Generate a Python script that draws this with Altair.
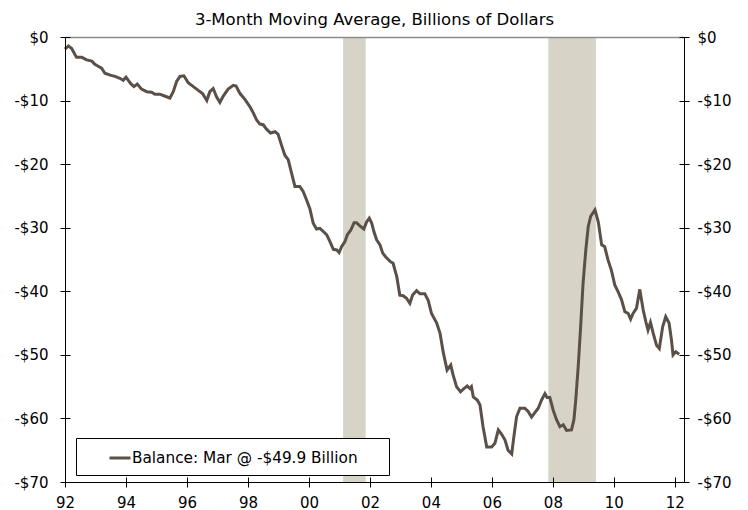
import altair as alt
import pandas as pd

title_text = "3-Month Moving Average, Billions of Dollars"
series_name = "Balance: Mar @ -$49.9 Billion"

years = [
    1992.00, 1992.11, 1992.22, 1992.33, 1992.38, 1992.55, 1992.71, 1992.88, 1992.98, 1993.09,
    1993.20, 1993.31, 1993.48, 1993.64, 1993.80, 1993.91, 1994.00, 1994.15, 1994.26, 1994.37,
    1994.51, 1994.68, 1994.84, 1994.95, 1995.11, 1995.22, 1995.33, 1995.44, 1995.55, 1995.66,
    1995.77, 1995.90, 1996.04, 1996.21, 1996.37, 1996.51, 1996.65, 1996.75, 1996.86, 1996.97,
    1997.08, 1997.19, 1997.35, 1997.52, 1997.61, 1997.74, 1997.90, 1998.07, 1998.17, 1998.29,
    1998.39, 1998.50, 1998.61, 1998.74, 1998.89, 1998.99, 1999.10, 1999.21, 1999.32, 1999.43,
    1999.54, 1999.70, 1999.81, 1999.92, 2000.03, 2000.14, 2000.25, 2000.36, 2000.47, 2000.58,
    2000.69, 2000.80, 2000.91, 2000.99, 2001.07, 2001.18, 2001.26, 2001.37, 2001.48, 2001.56,
    2001.67, 2001.80, 2001.89, 2001.98, 2002.06, 2002.13, 2002.22, 2002.33, 2002.42, 2002.52,
    2002.66, 2002.76, 2002.88, 2002.98, 2003.09, 2003.20, 2003.31, 2003.40, 2003.53, 2003.64,
    2003.80, 2003.91, 2004.02, 2004.19, 2004.30, 2004.40, 2004.53, 2004.65, 2004.73, 2004.84,
    2004.97, 2005.08, 2005.19, 2005.28, 2005.33, 2005.39, 2005.52, 2005.61, 2005.71, 2005.83,
    2005.99, 2006.10, 2006.21, 2006.32, 2006.43, 2006.53, 2006.65, 2006.72, 2006.81, 2006.92,
    2007.08, 2007.19, 2007.30, 2007.41, 2007.52, 2007.63, 2007.74, 2007.81, 2007.90, 2008.01,
    2008.12, 2008.23, 2008.34, 2008.45, 2008.61, 2008.69, 2008.75, 2008.83, 2008.91, 2008.99,
    2009.08, 2009.16, 2009.24, 2009.38, 2009.49, 2009.60, 2009.70, 2009.81, 2009.92, 2010.03,
    2010.14, 2010.25, 2010.36, 2010.47, 2010.55, 2010.63, 2010.74, 2010.85, 2010.96, 2011.05,
    2011.12, 2011.20, 2011.29, 2011.40, 2011.49, 2011.60, 2011.70, 2011.81, 2011.89, 2011.94,
    2012.03, 2012.14,
]

balance = [
    -1.9, -1.4, -1.8, -2.8, -3.2, -3.2, -3.6, -3.8, -4.3, -4.6,
    -4.9, -5.7, -6.0, -6.2, -6.5, -6.8, -6.3, -7.3, -7.8, -7.4,
    -8.2, -8.6, -8.7, -9.0, -9.0, -9.2, -9.4, -9.6, -8.6, -7.0,
    -6.2, -6.1, -7.2, -7.8, -8.4, -8.9, -10.0, -8.6, -8.1, -9.4,
    -10.3, -9.3, -8.2, -7.6, -7.7, -8.9, -9.8, -11.0, -11.9, -13.1,
    -13.7, -13.8, -14.5, -15.1, -14.9, -15.3, -17.0, -18.6, -19.3, -21.4,
    -23.5, -23.5, -24.3, -25.6, -27.0, -29.3, -30.2, -30.1, -30.6, -31.1,
    -32.2, -33.4, -33.5, -33.9, -33.0, -32.2, -31.1, -30.4, -29.2, -29.2,
    -29.7, -30.2, -29.1, -28.5, -29.3, -30.6, -31.9, -32.7, -34.0, -34.6,
    -35.3, -35.6, -37.7, -40.6, -40.7, -41.1, -41.9, -40.6, -39.9, -40.4,
    -40.4, -41.4, -43.5, -45.0, -46.6, -49.5, -52.4, -51.6, -53.2, -55.0,
    -55.8, -55.3, -54.9, -55.3, -55.0, -56.6, -57.1, -57.9, -61.3, -64.5,
    -64.5, -63.9, -61.8, -62.5, -63.4, -65.0, -65.6, -62.9, -59.7, -58.4,
    -58.4, -58.9, -59.8, -59.1, -58.4, -57.1, -56.1, -56.7, -56.7, -58.7,
    -60.2, -61.3, -61.0, -61.9, -61.8, -60.2, -57.1, -51.9, -45.6, -38.7,
    -33.5, -29.8, -28.2, -27.2, -29.1, -32.7, -33.0, -35.1, -36.7, -39.0,
    -40.1, -41.3, -43.2, -43.5, -44.4, -43.5, -42.7, -39.7, -42.9, -44.8,
    -46.1, -44.9, -46.6, -48.5, -49.0, -45.6, -44.0, -45.0, -47.7, -50.0,
    -49.5, -49.9,
]

rec_start = [2001.12, 2007.85]
rec_end = [2001.86, 2009.41]

x_ticks = [1992, 1994, 1996, 1998, 2000, 2002, 2004, 2006, 2008, 2010, 2012]
y_ticks = [0, -10, -20, -30, -40, -50, -60, -70]

df = pd.DataFrame({"year": years, "balance": balance, "series": series_name})
rec = pd.DataFrame({"start": rec_start, "end": rec_end})

FONT = "DejaVu Sans"
LINE = "#5b5047"
BAND = "#d7d3c7"

xs = alt.Scale(domain=[1992, 2012.3], nice=False, zero=False)
ys = alt.Scale(domain=[-70, 0], nice=False, zero=False)

x_lab = "format(datum.value % 100, '02d')"
y_lab = "datum.value == 0 ? '$0' : '-$' + format(-datum.value, 'd')"

common = dict(grid=False, title=None, zindex=1, minExtent=0, labelFlush=False)
lab = dict(labelFont=FONT, labelFontSize=15, labelColor="black")

bands = alt.Chart(rec).mark_rect(color=BAND).encode(
    x=alt.X("start:Q", scale=xs, axis=None),
    x2="end:Q",
)

line = alt.Chart(df).mark_line(strokeWidth=3).encode(
    x=alt.X("year:Q", scale=xs, axis=alt.Axis(
        orient="bottom", values=x_ticks, labelExpr=x_lab, domain=True,
        domainColor="black", domainWidth=1, ticks=False, tickSize=0,
        labelPadding=13, **lab, **common)),
    y=alt.Y("balance:Q", scale=ys, axis=alt.Axis(
        orient="left", values=y_ticks, labelExpr=y_lab, domain=True,
        domainColor="black", domainWidth=1, ticks=False, tickSize=0,
        labelPadding=17, **lab, **common)),
    color=alt.Color("series:N", scale=alt.Scale(domain=[series_name], range=[LINE]),
                    legend=alt.Legend(
                        title="\u00a0", titleOrient="right", titlePadding=23,
                        titleFontSize=15, titleFont=FONT,
                        orient="none", legendX=11, legendY=401,
                        fillColor="white", strokeColor="black", padding=8,
                        symbolType="stroke", symbolStrokeWidth=3, symbolSize=441,
                        symbolOffset=24, labelOffset=0, labelLimit=400,
                        labelFont=FONT, labelFontSize=15.3, labelColor="black")),
)

ticks_lb = alt.Chart(df).mark_line(opacity=0).encode(
    x=alt.X("year:Q", scale=xs, axis=alt.Axis(
        orient="bottom", values=x_ticks, offset=-5, tickSize=10, domain=False,
        labels=False, tickColor="black", tickWidth=1, **common)),
    y=alt.Y("balance:Q", scale=ys, axis=alt.Axis(
        orient="left", values=y_ticks, offset=-5, tickSize=10, domain=False,
        labels=False, tickColor="black", tickWidth=1, **common)),
)

right = alt.Chart(df).mark_line(opacity=0).encode(
    x=alt.X("year:Q", scale=xs, axis=alt.Axis(
        orient="top", domain=True, domainColor="#8c8c8c", domainWidth=1.5,
        ticks=False, labels=False, **common)),
    y=alt.Y("balance:Q", scale=ys, axis=alt.Axis(
        orient="right", values=y_ticks, labelExpr=y_lab, domain=True,
        domainColor="black", domainWidth=1, ticks=False, tickSize=0,
        labelPadding=13, **lab, **common)),
)

ticks_r = alt.Chart(df).mark_line(opacity=0).encode(
    x=alt.X("year:Q", scale=xs, axis=None),
    y=alt.Y("balance:Q", scale=ys, axis=alt.Axis(
        orient="right", values=y_ticks, offset=-5, tickSize=10, domain=False,
        labels=False, tickColor="black", tickWidth=1, **common)),
)

chart = alt.layer(bands, line, ticks_lb, right, ticks_r).resolve_axis(
    x="independent", y="independent"
).properties(
    width=619,
    height=445,
    title=alt.Title(title_text, font=FONT, fontSize=16.5, fontWeight="normal",
                    color="black", anchor="middle", frame="group",
                    baseline="alphabetic", offset=9, dy=20),
    padding={"left": 57, "top": 29, "right": 56, "bottom": 30},
    autosize=alt.AutoSizeParams(type="none"),
).configure_view(stroke=None).configure(background="white")

chart.save("out.html", embed_options={"renderer": "svg", "actions": False})
